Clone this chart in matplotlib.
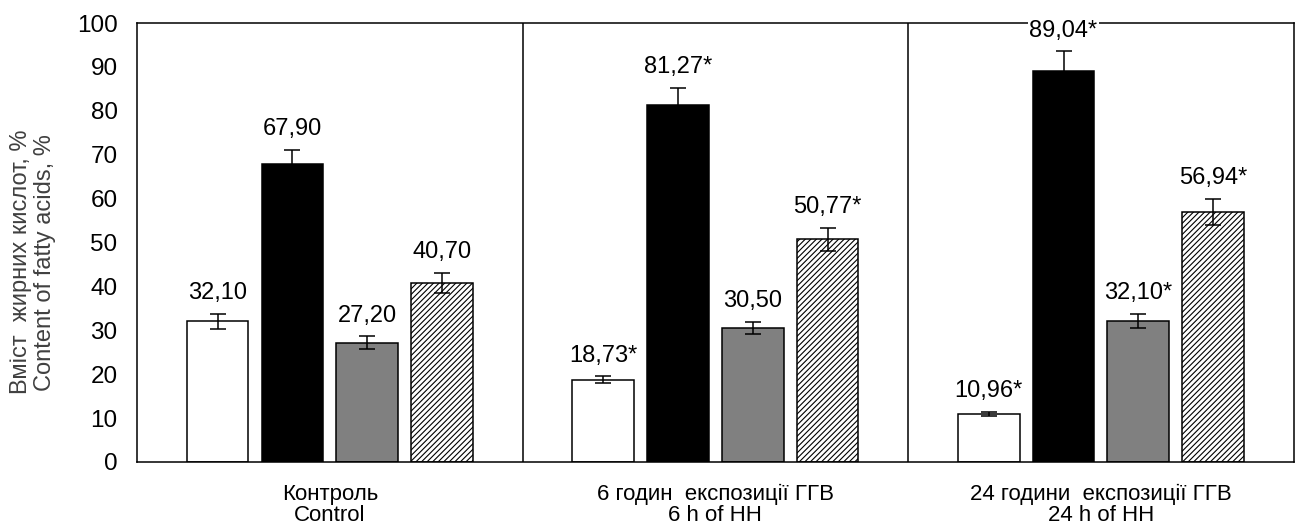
import matplotlib
matplotlib.use("Agg")
import matplotlib.pyplot as plt
import numpy as np

plt.rcParams['font.family'] = ['Liberation Sans', 'DejaVu Sans']
plt.rcParams['hatch.linewidth'] = 0.8

groups = ["Контроль\nControl", "6 годин  експозиції ГГВ\n6 h of HH", "24 години  експозиції ГГВ\n24 h of HH"]
white_vals = [32.10, 18.73, 10.96]
black_vals = [67.90, 81.27, 89.04]
grey_vals = [27.20, 30.50, 32.10]
hatch_vals = [40.70, 50.77, 56.94]
white_err = [1.7, 0.8, 0.4]
black_err = [3.2, 4.0, 4.5]
grey_err = [1.4, 1.4, 1.6]
hatch_err = [2.3, 2.6, 3.0]
white_lbl = ["32,10", "18,73*", "10,96*"]
black_lbl = ["67,90", "81,27*", "89,04*"]
grey_lbl = ["27,20", "30,50", "32,10*"]
hatch_lbl = ["40,70", "50,77*", "56,94*"]
yticks = [0, 10, 20, 30, 40, 50, 60, 70, 80, 90, 100]

fig = plt.figure(figsize=(12.95, 5.29), dpi=100)
ax = fig.add_axes([0.1058, 0.1267, 0.8932, 0.8298])

x = np.arange(len(groups))
width = 0.16
offsets = [-0.291, -0.097, 0.097, 0.291]
series = [
    (white_vals, white_err, white_lbl, dict(color='white', hatch=None)),
    (black_vals, black_err, black_lbl, dict(color='black', hatch=None)),
    (grey_vals, grey_err, grey_lbl, dict(color='#808080', hatch=None)),
    (hatch_vals, hatch_err, hatch_lbl, dict(color='white', hatch='//////')),
]
for (vals, errs, lbls, st), off in zip(series, offsets):
    xs = x + off
    ax.bar(xs, vals, width, color=st['color'], edgecolor='black', linewidth=1.1,
           hatch=st['hatch'], zorder=2)
    ax.errorbar(xs, vals, yerr=errs, fmt='none', ecolor='black', elinewidth=1.1,
                capsize=5.5, capthick=1.1, zorder=3)
    for xi, v, e, l in zip(xs, vals, errs, lbls):
        ax.annotate(l, (xi, v + e), xytext=(0, 7), textcoords='offset points',
                    ha='center', va='bottom', fontsize=17, color='black',
                    bbox=dict(boxstyle='square,pad=0.05', fc='white', ec='none'),
                    zorder=5, annotation_clip=False)

for d in [0.5, 1.5]:
    ax.axvline(d, color='black', linewidth=1.1, zorder=1)

ax.set_xlim(-0.5, 2.5)
ax.set_ylim(0, 100)
ax.set_yticks(yticks)
ax.set_yticklabels([str(t) for t in yticks], fontsize=17.5)
ax.set_xticks(x)
ax.set_xticklabels(groups, fontsize=16, linespacing=1.0)
ax.tick_params(axis='both', length=0)
ax.tick_params(axis='y', pad=14)
ax.tick_params(axis='x', pad=16)
for s in ax.spines.values():
    s.set_linewidth(1.1)
    s.set_zorder(4)
ax.set_ylabel("Вміст  жирних кислот, %\nContent of fatty acids, %", fontsize=17,
              color='#404040', linespacing=1.1, labelpad=14)
ax.yaxis.set_label_coords(-0.07, 0.455)

fig.savefig("out.png", dpi=100)
